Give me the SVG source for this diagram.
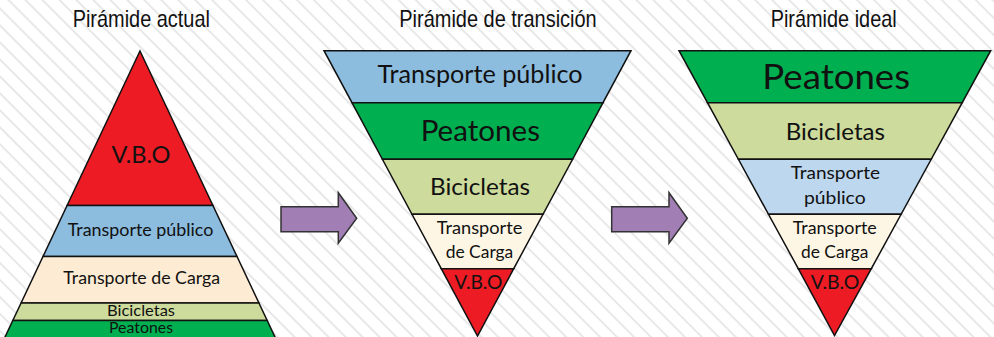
<svg xmlns="http://www.w3.org/2000/svg" width="994" height="337" viewBox="0 0 994 337">
<defs>
<pattern id="stripes" patternUnits="userSpaceOnUse" width="12" height="12" patternTransform="rotate(-45)">
<rect width="12" height="12" fill="#ffffff"/>
<line x1="6" y1="0" x2="6" y2="12" stroke="#e3e3e3" stroke-width="1.6"/>
</pattern>
<style>
.lay{stroke:#111;stroke-width:1.5;stroke-linejoin:miter}
.red{fill:#ED1C24}.blue{fill:#8CBCDE}.lblue{fill:#BDD7EE}.peach{fill:#FDEBD3}.cream{fill:#FEF6E4}.lgreen{fill:#CDDB9C}.green{fill:#00B050}
.t{font-family:Lato,"Open Sans",sans-serif;fill:#111;text-anchor:middle}
.title{font-family:"Liberation Sans",Arial,sans-serif;font-size:24px;fill:#111;text-anchor:middle}
.arrow{fill:#A17FB5;stroke:#333;stroke-width:1.5}
</style>
</defs>
<rect width="994" height="337" fill="url(#stripes)"/>

<g id="title-actual"><text class="title" x="141.3" y="26.7" textLength="137.3" lengthAdjust="spacingAndGlyphs">Pirámide actual</text></g>
<g id="title-transicion"><text class="title" x="498" y="26.7" textLength="197.4" lengthAdjust="spacingAndGlyphs">Pirámide de transición</text></g>
<g id="title-ideal"><text class="title" x="833.7" y="26.7" textLength="126" lengthAdjust="spacingAndGlyphs">Pirámide ideal</text></g>

<g id="piramide-actual">
<polygon class="lay red" points="140,51 212.9,205.5 67.1,205.5"/>
<polygon class="lay blue" points="67.1,205.5 212.9,205.5 237,256.5 43,256.5"/>
<polygon class="lay peach" points="43,256.5 237,256.5 258.9,303 21.1,303"/>
<polygon class="lay lgreen" points="21.1,303 258.9,303 267.2,320.5 12.8,320.5"/>
<polygon class="lay green" points="12.8,320.5 267.2,320.5 276.4,340 3.6,340"/>
<text class="t" x="141" y="163" font-size="23.4" textLength="59" lengthAdjust="spacingAndGlyphs">V.B.O</text>
<text class="t" x="140.5" y="236" font-size="17.1" textLength="145.6" lengthAdjust="spacingAndGlyphs">Transporte público</text>
<text class="t" x="141.7" y="284.3" font-size="17.1" textLength="156.7" lengthAdjust="spacingAndGlyphs">Transporte de Carga</text>
<text class="t" x="141" y="316" font-size="16.2" textLength="68" lengthAdjust="spacingAndGlyphs">Bicicletas</text>
<text class="t" x="141" y="332.7" font-size="15.3" textLength="64" lengthAdjust="spacingAndGlyphs">Peatones</text>
</g>

<g id="piramide-transicion">
<polygon class="lay blue" points="324,50.7 631,50.7 603,102.7 352,102.7"/>
<polygon class="lay green" points="352,102.7 603,102.7 572.6,159.3 382.4,159.3"/>
<polygon class="lay lgreen" points="382.4,159.3 572.6,159.3 543,214.3 412,214.3"/>
<polygon class="lay cream" points="412,214.3 543,214.3 513.7,268.7 441.3,268.7"/>
<polygon class="lay red" points="441.3,268.7 513.7,268.7 477.5,336"/>
<text class="t" x="480" y="83.3" font-size="24.3" textLength="205" lengthAdjust="spacingAndGlyphs">Transporte público</text>
<text class="t" x="480.3" y="140.7" font-size="28.8" textLength="119.3" lengthAdjust="spacingAndGlyphs">Peatones</text>
<text class="t" x="480" y="195" font-size="23.8" textLength="100" lengthAdjust="spacingAndGlyphs">Bicicletas</text>
<text class="t" x="479.5" y="234.3" font-size="17.1" textLength="85.7" lengthAdjust="spacingAndGlyphs">Transporte</text>
<text class="t" x="479.5" y="258.3" font-size="17.1" textLength="67.6" lengthAdjust="spacingAndGlyphs">de Carga</text>
<text class="t" x="478.3" y="288.7" font-size="18.9" textLength="48" lengthAdjust="spacingAndGlyphs">V.B.O</text>
</g>

<g id="piramide-ideal">
<polygon class="lay green" points="679,50.7 990.7,50.7 962.2,102.7 707.5,102.7"/>
<polygon class="lay lgreen" points="707.5,102.7 962.2,102.7 931.2,159.3 738.4,159.3"/>
<polygon class="lay lblue" points="738.4,159.3 931.2,159.3 901.1,214.3 768.5,214.3"/>
<polygon class="lay cream" points="768.5,214.3 901.1,214.3 871.3,268.7 798.3,268.7"/>
<polygon class="lay red" points="798.3,268.7 871.3,268.7 834.5,335.5"/>
<text class="t" x="836.2" y="89.3" font-size="35.1" textLength="147.7" lengthAdjust="spacingAndGlyphs">Peatones</text>
<text class="t" x="835.3" y="140" font-size="23.7" textLength="99.3" lengthAdjust="spacingAndGlyphs">Bicicletas</text>
<text class="t" x="835.3" y="179.3" font-size="18" textLength="89.3" lengthAdjust="spacingAndGlyphs">Transporte</text>
<text class="t" x="834.8" y="203.5" font-size="18" textLength="61.7" lengthAdjust="spacingAndGlyphs">público</text>
<text class="t" x="834.7" y="234.3" font-size="17.1" textLength="84" lengthAdjust="spacingAndGlyphs">Transporte</text>
<text class="t" x="834.7" y="258.3" font-size="17.1" textLength="67.3" lengthAdjust="spacingAndGlyphs">de Carga</text>
<text class="t" x="835" y="288.7" font-size="18.9" textLength="48.6" lengthAdjust="spacingAndGlyphs">V.B.O</text>
</g>

<g id="connectors">
<polygon class="arrow" points="281,206.7 338.3,206.7 338.3,192.7 356.7,218.3 338.3,243.3 338.3,231.7 281,231.7"/>
<polygon class="arrow" points="611.7,206.7 669,206.7 669,192.7 687.3,218.3 669,243.3 669,231.7 611.7,231.7"/>
</g>
</svg>
